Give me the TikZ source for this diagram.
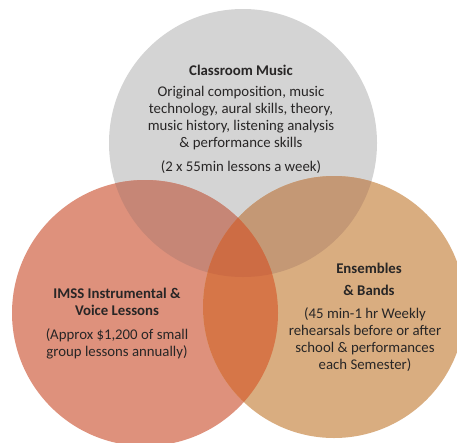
\documentclass[tikz,border=0pt]{standalone}
\usepackage{fontspec}
\setmainfont{Carlito}

\definecolor{classgray}{RGB}{212,212,212}
\definecolor{lessonred}{RGB}{222,145,124}
\definecolor{bandtan}{RGB}{217,173,128}
\definecolor{grayred}{RGB}{198,134,118}
\definecolor{graytan}{RGB}{196,152,117}
\definecolor{redtan}{RGB}{214,118,72}
\definecolor{allthree}{RGB}{205,108,68}
\definecolor{textdark}{RGB}{40,38,38}

\begin{document}
\begin{tikzpicture}[x=1pt,y=-1pt,
    venn/.style={circle, inner sep=0pt, minimum size=#1},
    title/.style={font=\fontsize{14.8}{17}\selectfont\bfseries, text=textdark, align=center},
    body/.style={font=\fontsize{14.8}{17}\selectfont, text=textdark, align=center}]
    % Canvas
    \useasboundingbox (0,0) rectangle (457,442);

    % The three circles
    \node[venn=268pt, fill=classgray] (classroom) at (243,143) {};
    \node[venn=266pt, fill=lessonred] (imss) at (145,313) {};
    \node[venn=262pt, fill=bandtan] (ensembles) at (334,307) {};

    % Overlaps
    \begin{scope}
        \clip (classroom.center) circle (134pt);
        \fill[grayred] (imss.center) circle (133pt);
        \fill[graytan] (ensembles.center) circle (131pt);
    \end{scope}
    \begin{scope}
        \clip (imss.center) circle (133pt);
        \fill[redtan] (ensembles.center) circle (131pt);
        \clip (ensembles.center) circle (131pt);
        \fill[allthree] (classroom.center) circle (134pt);
    \end{scope}

    % Classroom music text
    \node[title] (classtitle) at (241,70) {Classroom Music};
    \node[body] (classbody) at (241,118) {Original composition, music\\
        technology, aural skills, theory,\\
        music history, listening analysis\\
        \& performance skills};
    \node[body] (classnote) at (241,167) {(2 x 55min lessons a week)};

    % IMSS text
    \node[title] (imsstitle) at (117,302) {IMSS Instrumental \&\\ Voice Lessons};
    \node[body] (imssbody) at (117,344) {(Approx \$1,200 of small\\ group lessons annually)};

    % Ensembles text
    \node[title] (bandtitle) at (369,279) {Ensembles\\[5pt] \& Bands};
    \node[body] (bandbody) at (365,340) {(45 min-1 hr Weekly\\
        rehearsals before or after\\
        school \& performances\\
        each Semester)};
\end{tikzpicture}
\end{document}
